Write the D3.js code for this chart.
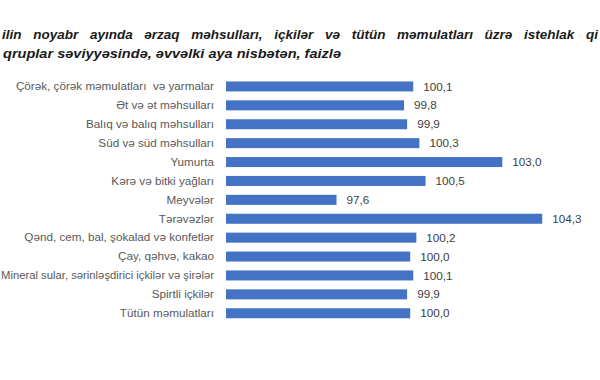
<!DOCTYPE html>
<html>
<head>
<meta charset="utf-8">
<script src="https://cdn.jsdelivr.net/npm/d3@7/dist/d3.min.js"></script>
<style>
  html, body { margin: 0; padding: 0; background: #ffffff; }
  svg { display: block; }
</style>
</head>
<body>
<div id="chart"></div>
<script>
const titleLine1 = "ilin noyabr ayında ərzaq məhsulları, içkilər və tütün məmulatları üzrə istehlak qi";
const titleLine2 = "qruplar səviyyəsində, əvvəlki aya nisbətən, faizlə";

const categories = [
  "Çörək, çörək məmulatları  və yarmalar",
  "Ət və ət məhsulları",
  "Balıq və balıq məhsulları",
  "Süd və süd məhsulları",
  "Yumurta",
  "Kərə və bitki yağları",
  "Meyvələr",
  "Tərəvəzlər",
  "Qənd, cem, bal, şokalad və konfetlər",
  "Çay, qəhvə, kakao",
  "Mineral sular, sərinləşdirici içkilər və şirələr",
  "Spirtli içkilər",
  "Tütün məmulatları"
];
const values = [100.1, 99.8, 99.9, 100.3, 103.0, 100.5, 97.6, 104.3, 100.2, 100.0, 100.1, 99.9, 100.0];
const valueLabels = ["100,1", "99,8", "99,9", "100,3", "103,0", "100,5", "97,6", "104,3", "100,2", "100,0", "100,1", "99,9", "100,0"];

const W = 600, H = 380;
const svg = d3.select("#chart").append("svg").attr("width", W).attr("height", H);

// Title
const fontTitle = "'Liberation Sans', Arial, sans-serif";
const t1 = svg.append("text")
  .attr("x", 2).attr("y", 38.5)
  .attr("font-family", fontTitle).attr("font-size", 13.5)
  .attr("font-weight", "bold").attr("font-style", "italic")
  .attr("fill", "#1a1a1a")
  .text(titleLine1);
const w1 = t1.node().getComputedTextLength();
const nGaps = titleLine1.split(" ").length - 1;
const targetW1 = 596;
t1.attr("word-spacing", Math.max(0, (targetW1 - w1) / nGaps));

svg.append("text")
  .attr("x", 3).attr("y", 57.5)
  .attr("font-family", fontTitle).attr("font-size", 13.5)
  .attr("font-weight", "bold").attr("font-style", "italic")
  .attr("fill", "#1a1a1a")
  .attr("textLength", 338).attr("lengthAdjust", "spacingAndGlyphs")
  .text(titleLine2);

// Scales
const x = d3.scaleLinear().domain([94, 105]).range([226, 226 + 11 * 30.7]);
const y = d3.scaleBand().domain(categories).range([77, 77 + 13 * 18.9])
  .paddingInner(0.47).paddingOuter(0.235);

// Category axis (labels only)
const yAxis = d3.axisLeft(y).tickSize(0).tickPadding(12);
const gy = svg.append("g").attr("transform", `translate(${x(94)},0)`).call(yAxis);
gy.select(".domain").remove();
const maxLabelW = x(94) - 12 - 1;
gy.selectAll("text")
  .attr("font-family", "'Liberation Sans', Arial, sans-serif")
  .attr("font-size", 11.7)
  .attr("fill", "#595959")
  .style("white-space", "pre")
  .each(function () {
    const w = this.getComputedTextLength();
    if (w > maxLabelW) {
      d3.select(this).attr("textLength", maxLabelW).attr("lengthAdjust", "spacingAndGlyphs");
    }
  });

// Bars
svg.append("g").selectAll("rect")
  .data(values)
  .join("rect")
  .attr("x", x(94))
  .attr("y", (d, i) => y(categories[i]))
  .attr("width", d => x(d) - x(94))
  .attr("height", y.bandwidth())
  .attr("fill", "#4472C4");

// Value labels
svg.append("g").selectAll("text")
  .data(values)
  .join("text")
  .attr("x", d => x(d) + 10)
  .attr("y", (d, i) => y(categories[i]) + y.bandwidth() / 2)
  .attr("dy", "0.35em")
  .attr("font-family", "'Liberation Sans', Arial, sans-serif")
  .attr("font-size", 11.7)
  .attr("fill", "#404040")
  .text((d, i) => valueLabels[i]);
</script>
</body>
</html>
